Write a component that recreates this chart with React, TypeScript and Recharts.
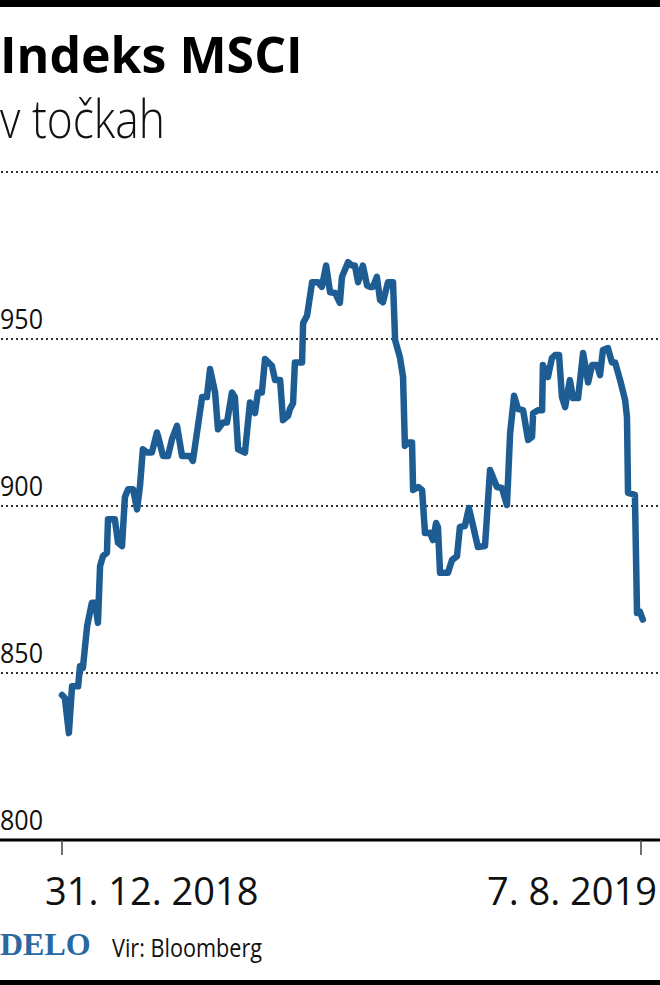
import { CartesianGrid, Line, LineChart, XAxis, YAxis } from "recharts";

// days since 31. 12. 2018
const DAYS = [
  0, 1.1, 2.6, 3.8, 6.1, 6.8, 7.9, 9.5, 11.3, 12.5, 13.6, 14.4, 15.5, 17.0, 17.4, 20.0, 21.2, 22.7, 23.8, 25.0,
  26.9, 28.4, 29.5, 30.6, 32.2, 34.0, 35.9, 36.3, 38.2, 40.1, 41.6, 43.5, 45.4, 48.4, 49.5, 53.0, 54.8, 56.0, 57.9,
  59.0, 60.9, 62.4, 64.3, 65.4, 66.6, 69.2, 71.1, 73.0, 74.1, 75.6, 76.8, 79.4, 80.6, 82.5, 83.6, 85.5, 86.2, 87.4,
  88.1, 90.8, 91.2, 92.7, 94.6, 96.8, 98.3, 99.9, 101.4, 103.3, 105.1, 105.9, 108.2, 109.7, 110.8, 112.0, 113.8,
  115.4, 116.5, 117.6, 119.1, 120.3, 121.4, 123.3, 125.2, 126.0, 127.8, 129.0, 129.7, 130.9, 132.4, 132.8, 134.7,
  136.2, 137.3, 139.2, 140.3, 141.5, 142.2, 143.0, 146.0, 147.5, 149.4, 150.5, 152.4, 153.9, 155.5, 157.3, 160.0,
  161.9, 164.5, 166.4, 168.3, 169.5, 171.0, 172.5, 174.4, 176.3, 177.8, 178.2, 180.0, 181.6, 181.9, 183.8, 185.3,
  186.5, 188.0, 189.1, 190.3, 192.1, 193.3, 195.2, 197.1, 199.0, 200.5, 202.4, 203.5, 204.6, 206.5, 208.0, 209.2,
  211.1, 213.0, 213.7, 214.1, 216.7, 217.5, 218.6, 219.7,
];

const VALUES = [
  843.4, 842.5, 832, 846, 846, 852, 851.5, 864, 871, 871, 865, 882, 885, 886, 896, 896, 889, 888, 902.7, 905,
  905, 899, 906, 917, 916, 916, 922, 921, 915, 915, 920, 924, 915, 915, 913.5, 932.6, 932.6, 941, 934,
  923, 925, 925, 934, 932.6, 917, 916, 931, 927.8, 934, 934, 944, 942, 937.7, 937.7, 925.7, 927, 929, 930.8,
  943, 943, 954.8, 957, 967, 967, 965.6, 972, 964, 963.8, 960.8, 968.6, 973, 972, 972, 967, 972,
  966, 965.6, 965.6, 968.6, 961.7, 961, 967, 967, 949.7, 944.6, 938.6, 918, 919, 919, 904.8, 905.7,
  904.8, 891.9, 892, 889.8, 894.9, 893.7, 880, 880, 883.8, 885, 893.7, 894, 899.4, 894, 887.7, 888,
  910.8, 905.7, 905.4, 900.3, 921.8, 933, 929, 928.7, 919.8, 920.7, 927.8, 928.7, 928.7, 942.2, 938.6, 944.3,
  945.2, 945.2, 932.6, 929.6, 937.7, 932.3, 932.3, 945.8, 937, 942.2, 942.2, 939.2, 946.7, 947.3, 943, 943,
  937.7, 931.7, 926.6, 903.9, 903.3, 868, 868.3, 866,
];

const Y_TICKS = [800, 850, 900, 950, 1000];
const X_TICKS = [0, 219];
const X_LABELS = ["31. 12. 2018", "7. 8. 2019"];

const data = DAYS.map((day, i) => ({ day, value: VALUES[i] }));

const SANS = "'Open Sans', 'Noto Sans', sans-serif";

function ValueTick({ y, payload }: any) {
  if (payload.value === 1000) return <g />;
  return (
    <text
      x={0}
      y={y - 10}
      fontFamily={SANS}
      fontSize={28}
      fill="#111"
      textAnchor="start"
      textLength={43}
      lengthAdjust="spacingAndGlyphs"
    >
      {payload.value}
    </text>
  );
}

function DateTick({ x, y, payload }: any) {
  const i = X_TICKS.indexOf(payload.value);
  const first = i === 0;
  return (
    <text
      x={first ? x - 17 : x + 16}
      y={y + 48}
      fontFamily={SANS}
      fontSize={38}
      fill="#111"
      textAnchor={first ? "start" : "end"}
    >
      {X_LABELS[i]}
    </text>
  );
}

export default function App() {
  return (
    <div style={{ position: "absolute", left: 0, top: 0, width: 660, height: 985, background: "#fff" }}>
      <LineChart width={660} height={985} data={data} margin={{ top: 172, right: 0, bottom: 65, left: 0 }}>
        <CartesianGrid vertical={false} stroke="#333" strokeWidth={2} strokeDasharray="2 3" />
        <XAxis
          dataKey="day"
          type="number"
          domain={[-23.07, 226.19]}
          ticks={X_TICKS}
          height={80}
          axisLine={{ stroke: "#000", strokeWidth: 3 }}
          tickLine={{ stroke: "#444", strokeWidth: 1.5 }}
          tickSize={15}
          tick={<DateTick />}
          interval={0}
        />
        <YAxis
          type="number"
          domain={[800, 1000]}
          ticks={Y_TICKS}
          width={1}
          axisLine={false}
          tickLine={false}
          tick={<ValueTick />}
          interval={0}
        />
        <Line
          dataKey="value"
          type="linear"
          stroke="#1e5d94"
          strokeWidth={6.5}
          strokeLinejoin="round"
          strokeLinecap="round"
          dot={false}
          isAnimationActive={false}
        />
      </LineChart>
      <svg width={660} height={985} style={{ position: "absolute", left: 0, top: 0, pointerEvents: "none" }}>
        <rect x={0} y={0} width={660} height={7} fill="#000" />
        <line x1={0} y1={840} x2={1} y2={840} stroke="#000" strokeWidth={3} />
        <text x={0} y={73} fontFamily={SANS} fontWeight={700} fontSize={50} fill="#000">
          Indeks MSCI
        </text>
        <text
          x={0}
          y={138}
          fontFamily={SANS}
          fontWeight={300}
          fontSize={53}
          fill="#111"
          textLength={165}
          lengthAdjust="spacingAndGlyphs"
        >
          v točkah
        </text>
        <text x={0} y={955} fontFamily="'Liberation Serif', 'DejaVu Serif', serif" fontWeight={700} fontSize={32} fill="#2a68a0">
          DELO
        </text>
        <text
          x={112}
          y={957}
          fontFamily={SANS}
          fontSize={26}
          fill="#111"
          textLength={150}
          lengthAdjust="spacingAndGlyphs"
        >
          Vir: Bloomberg
        </text>
        <rect x={0} y={980} width={660} height={5} fill="#000" />
      </svg>
    </div>
  );
}
